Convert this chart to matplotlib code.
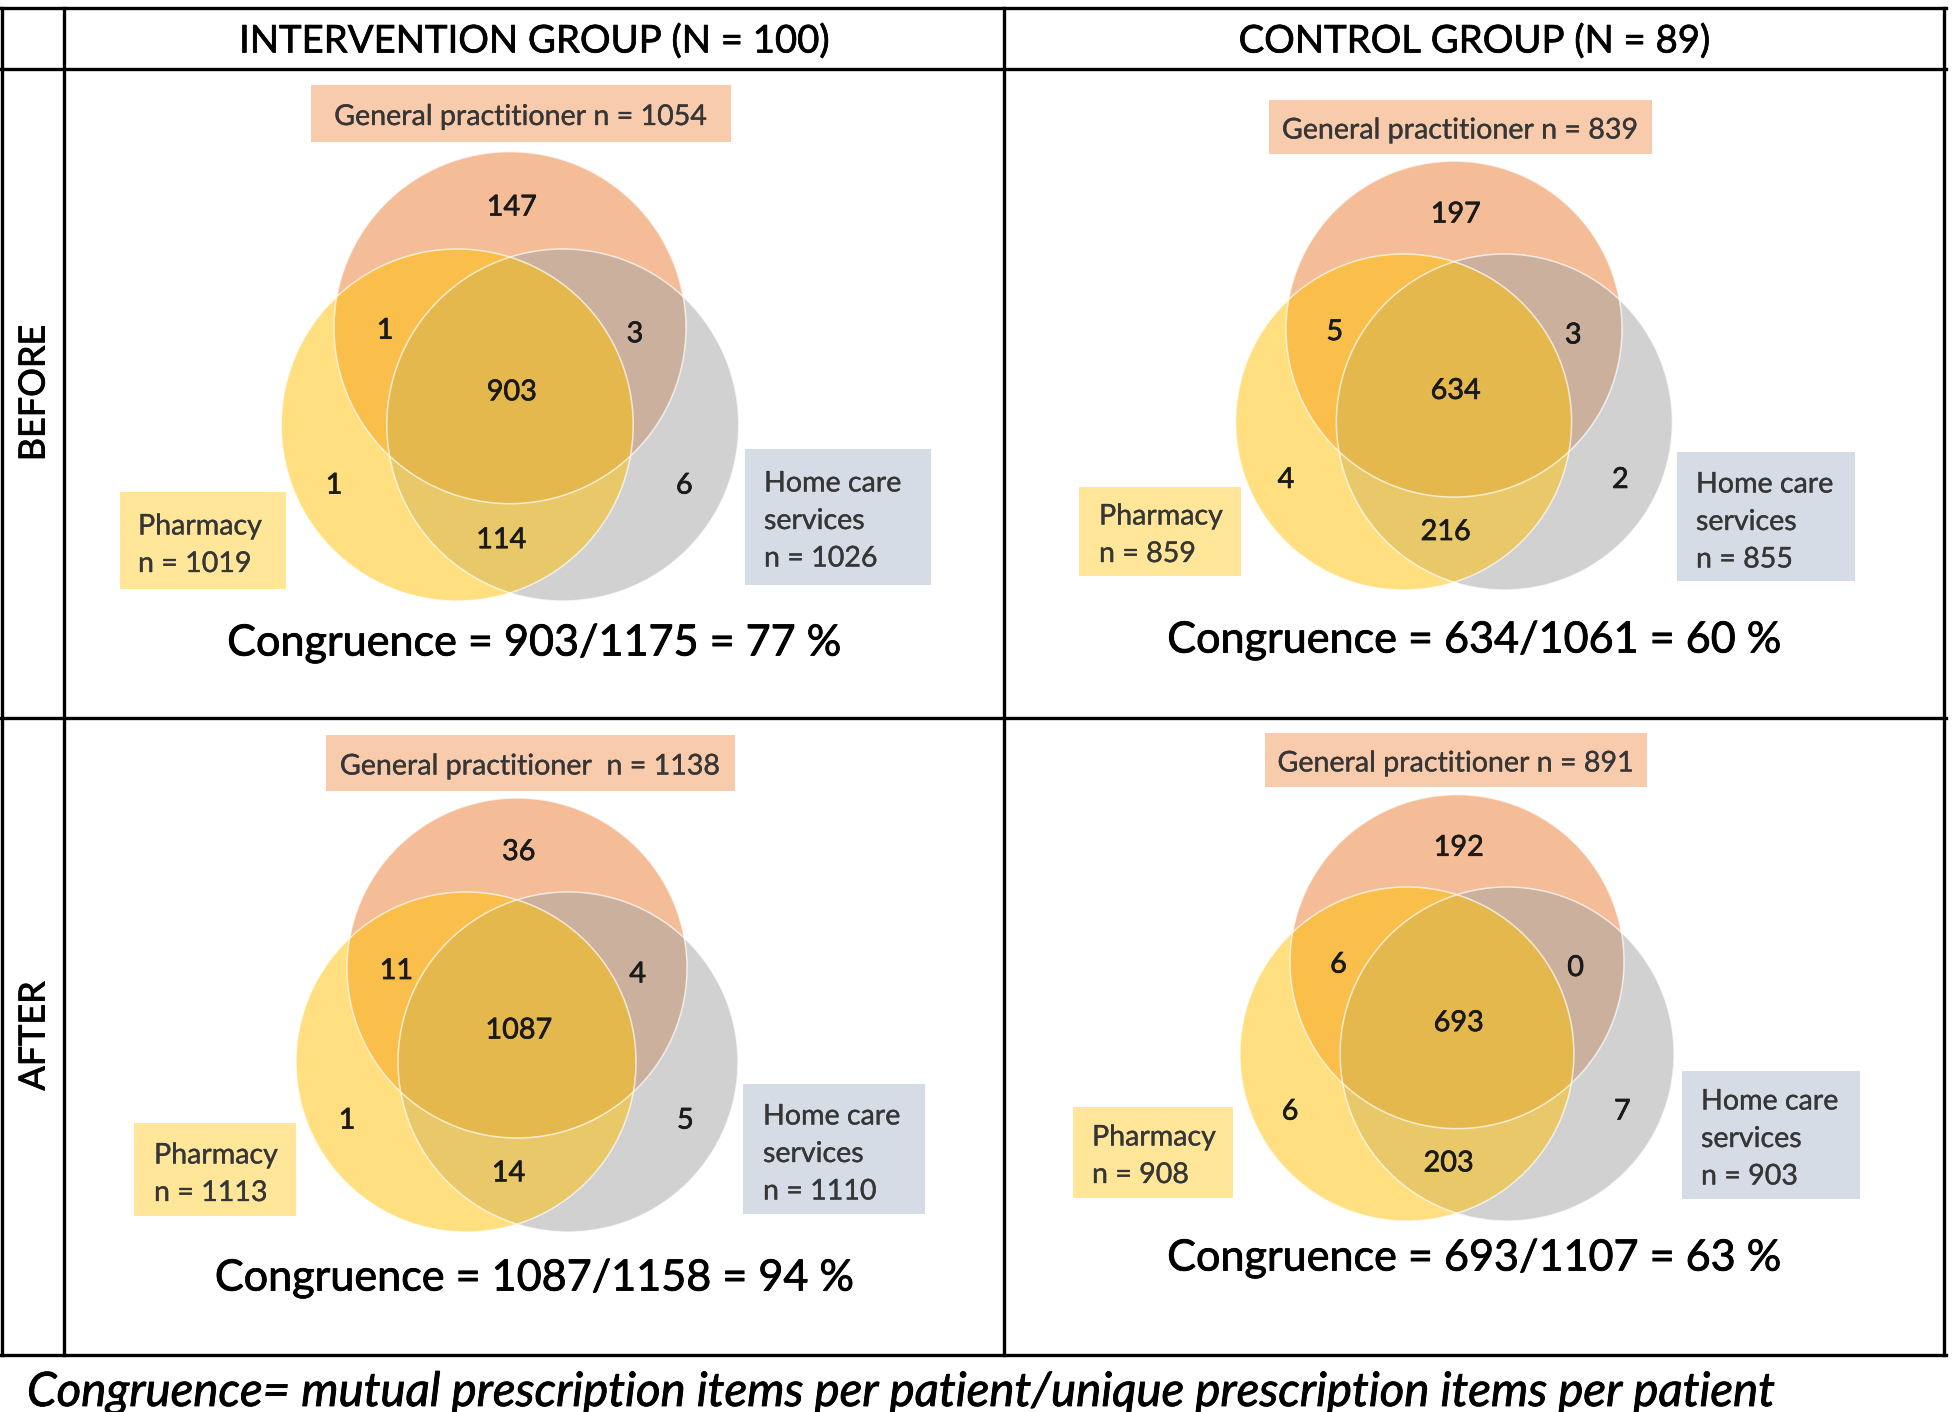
import matplotlib
matplotlib.use("Agg")
import matplotlib.pyplot as plt
from matplotlib.patches import Circle, Rectangle
import matplotlib.patheffects as pe

plt.rcParams['font.family'] = ['Lato', 'DejaVu Sans']

# ---------------- data ----------------
group_titles = ["INTERVENTION GROUP (N = 100)", "CONTROL GROUP (N = 89)"]
period_labels = ["BEFORE", "AFTER"]
# panel order: intervention-before, control-before, intervention-after, control-after
gp_only = [147, 197, 36, 192]
gp_ph = [1, 5, 11, 6]
gp_hc = [3, 3, 4, 0]
gp_ph_hc = [903, 634, 1087, 693]
ph_only = [1, 4, 1, 6]
ph_hc = [114, 216, 14, 203]
hc_only = [6, 2, 5, 7]
gp_total = [1054, 839, 1138, 891]
ph_total = [1019, 859, 1113, 908]
hc_total = [1026, 855, 1110, 903]
unique_items = [1175, 1061, 1158, 1107]
congruence_pct = [77, 60, 94, 63]
gp_name = "General practitioner"
ph_name = "Pharmacy"
hc_name = ["Home care", "services"]
gp_sep = [" ", " ", "  ", " "]
footnote = ("Congruence= mutual prescription items per patient/"
            "unique prescription items per patient")

# ---------------- layout ----------------
W, H, DPI = 1952, 1412, 100
fig = plt.figure(figsize=(W / DPI, H / DPI), dpi=DPI)
ax = fig.add_axes([0, 0, 1, 1])
ax.set_xlim(0, W)
ax.set_ylim(H, 0)
ax.axis('off')
renderer = fig.canvas.get_renderer()


def fit_size(s, target_w, base=20, **kw):
    t = ax.text(0, 0, s, fontsize=base, **kw)
    w = t.get_window_extent(renderer=renderer).width
    t.remove()
    return base * target_w / w


def thick(lw, col):
    return [pe.Stroke(linewidth=lw, foreground=col), pe.Normal()]


# table lines
lw_tab = 2.4
xL, xC, xM, xR = 1.7, 64, 1004, 1944
yT, yH, yM, yB = 7.5, 68.5, 718, 1355
for y in (yT, yH, yM, yB):
    ax.plot([xL - 1.5, xR + 1.5], [y, y], color='black', lw=lw_tab,
            solid_capstyle='projecting')
for x in (xL, xC, xM, xR):
    ax.plot([x, x], [yT, yB], color='black', lw=lw_tab,
            solid_capstyle='projecting')

# headers
fs_head = fit_size(group_titles[0], 589)
head_x = [534, 1474]
for s, x in zip(group_titles, head_x):
    ax.text(x, 38, s, fontsize=fs_head, ha='center', va='center_baseline',
            color='black', path_effects=thick(0.5, 'black'))
fs_row = fit_size(period_labels[0], 136)
row_y = [393, 1036]
for s, y in zip(period_labels, row_y):
    ax.text(34, y, s, fontsize=fs_row, ha='center', va='center',
            rotation=90, color='black', path_effects=thick(0.6, 'black'))

# venn geometry per panel: (x0, y0, r) x0,y0 = midpoint of PH/HC centres
venn_geom = [(510, 425, 176), (1454, 422, 168), (517, 1062, 170), (1457, 1054, 167)]
gp_box = [(311, 85, 731, 142), (1269, 100, 1652, 154),
          (326, 735, 735, 791), (1265, 733, 1647, 787)]
ph_box = [(120, 492, 286, 589), (1079, 487, 1241, 576),
          (134, 1123, 296, 1216), (1073, 1107, 1233, 1198)]
ph_txt = [(138, 524), (1099, 514), (154, 1153), (1092, 1135)]
hc_box = [(745, 449, 931, 585), (1677, 452, 1855, 581),
          (743, 1084, 925, 1214), (1682, 1071, 1860, 1199)]
hc_txt = [(764, 481), (1696, 482), (763, 1114), (1701, 1099)]
cong_xy = [(534, 640), (1474, 637), (534, 1275), (1474, 1255)]
line_gap = 37.5

# region label offsets (in units of r, relative to x0,y0)
off = {
    'gp_only': (0.01, -1.25), 'gp_ph': (-0.71, -0.55), 'gp_hc': (0.71, -0.53),
    'all': (0.01, -0.20), 'ph_only': (-1.0, 0.33), 'ph_hc': (-0.05, 0.64),
    'hc_only': (0.99, 0.33),
}

c_gp = '#ED7D31'
c_hc = '#A5A5A5'
c_ph = '#FFC000'
box_gp = '#F8CBAD'
box_ph = '#FFE699'
box_hc = '#D6DCE5'
txt_lab = '#363636'
txt_num = '#1A1A1A'

fs_lab = fit_size(f"{gp_name} n = {gp_total[0]}", 374)
fs_num = fit_size(str(gp_ph_hc[0]), 50)
fs_cong = fit_size(f"Congruence = {gp_ph_hc[0]}/{unique_items[0]} = {congruence_pct[0]} %", 615)

for i in range(4):
    x0, y0, r = venn_geom[i]
    dx, dy = 0.30 * r, 0.553 * r
    centres = [(x0, y0 - dy), (x0 + dx, y0), (x0 - dx, y0)]
    for (cx, cy), col in zip(centres, [c_gp, c_hc, c_ph]):
        ax.add_patch(Circle((cx, cy), r, facecolor=col, alpha=0.5,
                            edgecolor='none', zorder=2))
    for (cx, cy) in centres:
        ax.add_patch(Circle((cx, cy), r, facecolor='none',
                            edgecolor='white', lw=1.1, alpha=0.7, zorder=3))

    vals = {'gp_only': gp_only[i], 'gp_ph': gp_ph[i], 'gp_hc': gp_hc[i],
            'all': gp_ph_hc[i], 'ph_only': ph_only[i], 'ph_hc': ph_hc[i],
            'hc_only': hc_only[i]}
    for k, v in vals.items():
        ox, oy = off[k]
        ax.text(x0 + ox * r, y0 + oy * r, str(v), fontsize=fs_num,
                ha='center', va='center_baseline', color=txt_num, zorder=5,
                path_effects=thick(0.5, txt_num))

    # GP label box
    bx0, by0, bx1, by1 = gp_box[i]
    ax.add_patch(Rectangle((bx0, by0), bx1 - bx0, by1 - by0,
                           facecolor=box_gp, edgecolor='none', zorder=1))
    ax.text((bx0 + bx1) / 2, (by0 + by1) / 2 + 1,
            f"{gp_name}{gp_sep[i]}n = {gp_total[i]}", fontsize=fs_lab,
            ha='center', va='center_baseline', color=txt_lab, zorder=5,
            path_effects=thick(0.25, txt_lab))

    # Pharmacy box
    bx0, by0, bx1, by1 = ph_box[i]
    ax.add_patch(Rectangle((bx0, by0), bx1 - bx0, by1 - by0,
                           facecolor=box_ph, edgecolor='none', zorder=1))
    tx, ty = ph_txt[i]
    for j, s in enumerate([ph_name, f"n = {ph_total[i]}"]):
        ax.text(tx, ty + j * line_gap, s, fontsize=fs_lab, ha='left',
                va='center_baseline', color=txt_lab, zorder=5,
                path_effects=thick(0.25, txt_lab))

    # Home care box
    bx0, by0, bx1, by1 = hc_box[i]
    ax.add_patch(Rectangle((bx0, by0), bx1 - bx0, by1 - by0,
                           facecolor=box_hc, edgecolor='none', zorder=1))
    tx, ty = hc_txt[i]
    for j, s in enumerate(hc_name + [f"n = {hc_total[i]}"]):
        ax.text(tx, ty + j * line_gap, s, fontsize=fs_lab, ha='left',
                va='center_baseline', color=txt_lab, zorder=5,
                path_effects=thick(0.25, txt_lab))

    # congruence line
    cx, cy = cong_xy[i]
    ax.text(cx, cy, f"Congruence = {gp_ph_hc[i]}/{unique_items[i]} = {congruence_pct[i]} %",
            fontsize=fs_cong, ha='center', va='center_baseline', color='black',
            zorder=5, path_effects=thick(0.6, 'black'))

fs_foot = fit_size(footnote, 1747, style='italic')
ax.text(27, 1389, footnote, fontsize=fs_foot, style='italic', ha='left',
        va='center_baseline', color='black', path_effects=thick(0.6, 'black'))

fig.savefig('out.png', dpi=DPI, facecolor='white')
